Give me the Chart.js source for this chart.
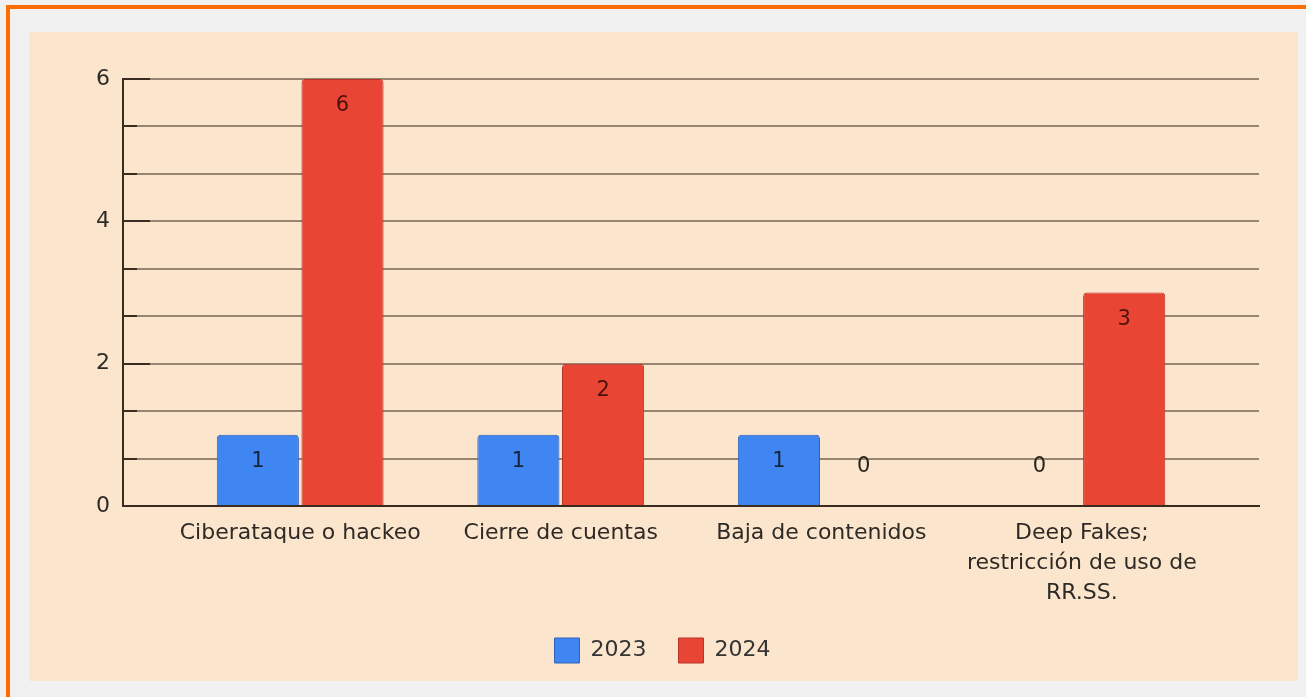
<!DOCTYPE html>
<html>
<head>
<meta charset="utf-8">
<script src="https://cdn.jsdelivr.net/npm/chart.js@4.4.1/dist/chart.umd.min.js"></script>
<style>
  html, body { margin:0; padding:0; width:1306px; height:697px; overflow:hidden; background:#f1f1f1; }
  #frame { position:absolute; left:6px; top:5px; width:1310px; height:700px; border-left:4px solid #ff6d00; border-top:4px solid #ff6d00; box-sizing:border-box; }
  #panel { position:absolute; left:29px; top:32px; width:1269px; height:649px; background:#fce5cd; }
  canvas { display:block; }
</style>
</head>
<body>
<div id="frame"></div>
<div id="panel"><canvas id="c" width="1269" height="649"></canvas></div>
<script>
const categories = ["Ciberataque o hackeo", "Cierre de cuentas", "Baja de contenidos", ["Deep Fakes;", "restricción de uso de", "RR.SS."]];
const seriesNames = ["2023", "2024"];
const values2023 = [1, 1, 1, 0];
const values2024 = [6, 2, 0, 3];
const yTickLabels = [0, 2, 4, 6];
const FONT = "'DejaVu Sans', sans-serif";

const tickMarks = {
  id: 'tickMarks',
  afterDraw(chart) {
    const y = chart.scales.y, ctx = chart.ctx, left = chart.chartArea.left;
    ctx.save();
    ctx.strokeStyle = '#3b2c22';
    ctx.lineWidth = 2;
    y.ticks.forEach((t, i) => {
      const py = Math.round(y.getPixelForValue(t.value));
      const len = (i % 3 === 0) ? 27 : 14;
      ctx.beginPath();
      ctx.moveTo(left, py);
      ctx.lineTo(left + len, py);
      ctx.stroke();
    });
    ctx.restore();
  }
};

const valueLabels = {
  id: 'valueLabels',
  afterDatasetsDraw(chart) {
    const ctx = chart.ctx;
    ctx.save();
    ctx.font = '21px ' + FONT;
    ctx.textAlign = 'center';
    ctx.textBaseline = 'middle';
    chart.data.datasets.forEach((ds, di) => {
      const meta = chart.getDatasetMeta(di);
      meta.data.forEach((el, i) => {
        const v = ds.data[i].y;
        if (v > 0) {
          ctx.fillStyle = di === 0 ? '#15233d' : '#4d100b';
          ctx.fillText(String(v), el.x, el.y + 27);
        } else {
          ctx.fillStyle = '#2a2420';
          ctx.fillText(String(v), el.x, el.y - 39);
        }
      });
    });
    ctx.restore();
  }
};

new Chart(document.getElementById('c'), {
  type: 'bar',
  data: {
    datasets: [
      { label: seriesNames[0], data: values2023.map((v, i) => ({x: i, y: v})),
        backgroundColor: '#3f86f2', borderColor: '#2f63b8', borderWidth: 1, borderRadius: 4, borderSkipped: 'start' },
      { label: seriesNames[1], data: values2024.map((v, i) => ({x: i, y: v})),
        backgroundColor: '#e94535', borderColor: '#b8352a', borderWidth: 1, borderRadius: 4, borderSkipped: 'start' }
    ]
  },
  options: {
    responsive: false,
    animation: false,
    devicePixelRatio: 1,
    categoryPercentage: 0.65,
    barPercentage: 0.97,
    layout: { padding: { left: 37, right: 39, top: 47, bottom: 8 } },
    plugins: {
      tooltip: { enabled: false },
      legend: {
        position: 'bottom',
        labels: { boxWidth: 25, boxHeight: 25, padding: 32, color: '#333', font: { family: FONT, size: 22 } }
      }
    },
    scales: {
      x: {
        type: 'linear',
        offset: false,
        min: -0.68, max: 3.68,
        afterBuildTicks: (s) => { s.ticks = categories.map((c, i) => ({value: i})); },
        afterFit: (s) => { s.height = 100; },
        grid: { display: false, drawTicks: false },
        border: { display: true, color: '#3b2c22', width: 2 },
        ticks: {
          autoSkip: false, maxRotation: 0, padding: 12, color: '#2e2a26',
          font: { family: FONT, size: 22, lineHeight: 1.36 },
          callback: (v) => categories[Math.round(v)]
        }
      },
      y: {
        min: 0, max: 6,
        afterBuildTicks: (s) => { s.ticks = Array.from({length: 10}, (_, i) => ({value: i * 2 / 3})); },
        afterFit: (s) => { s.width = 57; },
        grid: { color: 'rgba(110,92,74,0.7)', lineWidth: 2, drawTicks: false },
        border: { display: true, color: '#3b2c22', width: 2 },
        ticks: {
          padding: 13, color: '#2e2a26', font: { family: FONT, size: 22 },
          callback: (v, i) => (i % 3 === 0 ? String(yTickLabels[i / 3]) : '')
        }
      }
    }
  },
  plugins: [tickMarks, valueLabels]
});
</script>
</body>
</html>
